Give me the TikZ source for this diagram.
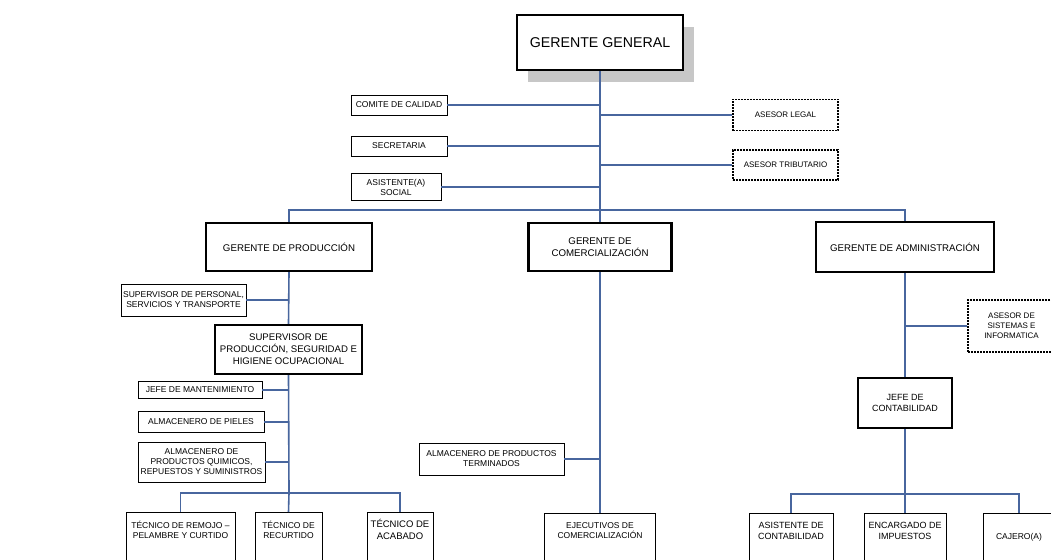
\documentclass[tikz,border=0pt]{standalone}
\usepackage{fontspec}
\setmainfont{Liberation Sans}
\usetikzlibrary{shadows}
\definecolor{linkblue}{RGB}{72,102,158}
\begin{document}
\begin{tikzpicture}[x=1pt,y=-1pt,
  box/.style={draw=black,line width=0.9pt,fill=white,inner sep=0pt,align=center,
    font=\fontsize{8.5}{10}\selectfont},
  heavy/.style={box,line width=2.4pt},
  mgr/.style={heavy,font=\fontsize{9.7}{12.5}\selectfont},
  advisor/.style={box,line width=1.3pt,dash pattern=on 2pt off 1pt,font=\fontsize{8}{10}\selectfont},
  low/.style={box,anchor=north,minimum height=60pt,text depth=26pt},
  link/.style={draw=linkblue,line width=1.6pt}]
\useasboundingbox (0,0) rectangle (1051,559);
\fill[white] (0,0) rectangle (1051,559);

% top level
\node[heavy,minimum width=166pt,minimum height=55pt,font=\fontsize{14.2}{17}\selectfont,
  drop shadow={shadow xshift=11pt,shadow yshift=-12pt,fill=black!22,opacity=1}]
  (gg) at (600,42.5) {GERENTE GENERAL};

\node[box,minimum width=96pt,minimum height=20pt] (comite) at (399,105) {COMITE DE CALIDAD};
\node[box,minimum width=96pt,minimum height=20pt] (secre) at (399,146) {SECRETARIA};
\node[box,minimum width=90pt,minimum height=27pt] (asoc) at (396,187) {ASISTENTE(A)\\SOCIAL};
\node[advisor,minimum width=105pt,minimum height=31pt] (legal) at (785.5,115) {ASESOR LEGAL};
\node[advisor,minimum width=105pt,minimum height=30pt] (trib) at (785.5,165) {ASESOR TRIBUTARIO};

% managers
\node[mgr,minimum width=166pt,minimum height=48pt] (gp) at (289,247) {GERENTE DE PRODUCCIÓN};
\node[mgr,minimum width=143pt,minimum height=48pt] (gc) at (600,247) {GERENTE DE\\COMERCIALIZACIÓN};
\node[mgr,minimum width=178pt,minimum height=50pt] (ga) at (905,247) {GERENTE DE ADMINISTRACIÓN};
\coordinate (bus) at (600,210);

% production branch
\node[box,minimum width=125pt,minimum height=32pt] (spst) at (183.5,300) {SUPERVISOR DE PERSONAL,\\SERVICIOS Y TRANSPORTE};
\node[heavy,minimum width=147pt,minimum height=49pt,font=\fontsize{9.6}{12}\selectfont] (spsh) at (288.5,349.5)
  {SUPERVISOR DE\\PRODUCCIÓN, SEGURIDAD E\\HIGIENE OCUPACIONAL};
\node[box,minimum width=124pt,minimum height=17pt] (jm) at (200,390) {JEFE DE MANTENIMIENTO};
\node[box,minimum width=126pt,minimum height=21pt] (apiel) at (201,422) {ALMACENERO DE PIELES};
\node[box,minimum width=127pt,minimum height=40pt] (aquim) at (201.5,462) {ALMACENERO DE\\PRODUCTOS QUIMICOS,\\REPUESTOS Y SUMINISTROS};
\coordinate (pbus) at (289,493);
\node[low,minimum width=109pt] (t1) at (180.5,512) {TÉCNICO DE REMOJO –\\PELAMBRE Y CURTIDO};
\node[low,minimum width=67pt] (t2) at (288.5,512) {TÉCNICO DE\\RECURTIDO};
\node[low,minimum width=66pt,font=\fontsize{9.5}{12}\selectfont] (t3) at (400,512) {TÉCNICO DE\\ACABADO};

% commercial branch
\node[box,minimum width=145pt,minimum height=32pt] (apt) at (491.5,459) {ALMACENERO DE PRODUCTOS\\TERMINADOS};
\node[low,minimum width=111pt] (ec) at (600,513) {EJECUTIVOS DE\\COMERCIALIZACIÓN};

% administration branch
\node[advisor,minimum width=87pt,minimum height=52pt] (asi) at (1011.5,326) {ASESOR DE\\SISTEMAS E\\INFORMATICA};
\node[heavy,minimum width=94pt,minimum height=50pt,font=\fontsize{9}{11}\selectfont] (jc) at (905,403) {JEFE DE\\CONTABILIDAD};
\coordinate (abus) at (905,494);
\node[low,minimum width=84pt,font=\fontsize{9}{11}\selectfont] (ac) at (791,513) {ASISTENTE DE\\CONTABILIDAD};
\node[low,minimum width=82pt,font=\fontsize{9}{11}\selectfont] (ei) at (905,513) {ENCARGADO DE\\IMPUESTOS};
\node[low,minimum width=72pt,text depth=14pt] (caj) at (1019,513) {CAJERO(A)};

% connectors
\path[link] (gg.south) -- (bus);
\path[link] (comite.east) -- (comite.east -| gg.south);
\path[link] (secre.east) -- (secre.east -| gg.south);
\path[link] (asoc.east) -- (asoc.east -| gg.south);
\path[link] (legal.west) -- (legal.west -| gg.south);
\path[link] (trib.west) -- (trib.west -| gg.south);
\path[link] (gp.north) |- (bus) -| (ga.north);
\path[link] (bus) -- (gc.north);

\path[link] (gp.south) -- (spsh.north);
\path[link] (spst.east) -- (spst.east -| gp.south);
\path[link] (spsh.south) -- (pbus);
\path[link] (jm.east) -- (jm.east -| spsh.south);
\path[link] (apiel.east) -- (apiel.east -| spsh.south);
\path[link] (aquim.east) -- (aquim.east -| spsh.south);
\path[link] (t1.north) |- (pbus) -| (t3.north);
\path[link] (pbus) -- (t2.north);

\path[link] (gc.south) -- (ec.north);
\path[link] (apt.east) -- (apt.east -| gc.south);

\path[link] (ga.south) -- (jc.north);
\path[link] (asi.west) -- (asi.west -| ga.south);
\path[link] (jc.south) -- (abus);
\path[link] (ac.north) |- (abus) -| (caj.north);
\path[link] (abus) -- (ei.north);
\end{tikzpicture}
\end{document}
